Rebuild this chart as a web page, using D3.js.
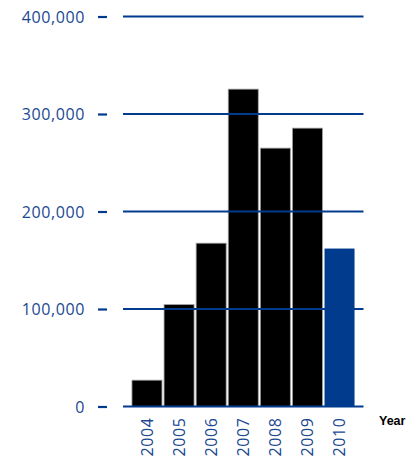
<!DOCTYPE html>
<html>
<head>
<meta charset="utf-8">
<script src="https://cdn.jsdelivr.net/npm/d3@7"></script>
<style>
  html, body { margin: 0; padding: 0; background: #fff; overflow: hidden; }
  svg { display: block; }
</style>
</head>
<body>
<svg id="chart" width="407" height="460"></svg>
<script>
// Yearly totals, 2004–2010 (last year highlighted)
const years = ["2004", "2005", "2006", "2007", "2008", "2009", "2010"];
const values = [27000, 104500, 167500, 325500, 265000, 285500, 162000];
const yTicks = [0, 100000, 200000, 300000, 400000];
const highlightYear = "2010";

const blue = "#003b8e";
const textBlue = "#1a4892";
const labelFont = "'Open Sans', 'DejaVu Sans', sans-serif";
const svg = d3.select("#chart");

const x = d3.scaleBand()
  .domain(years)
  .range([131, 355.5])
  .paddingInner(0.065)
  .paddingOuter(0.03);

const y = d3.scaleLinear()
  .domain([0, 400000])
  .range([406.5, 16.5]);

// Bars
svg.append("g")
  .selectAll("rect")
  .data(years)
  .join("rect")
  .attr("x", d => x(d))
  .attr("width", x.bandwidth())
  .attr("y", (d, i) => y(values[i]))
  .attr("height", (d, i) => y(0) - y(values[i]))
  .attr("fill", d => d === highlightYear ? blue : "#000")
  .attr("stroke", d => d === highlightYear ? "none" : "#a0a0a0")
  .attr("stroke-width", 0.8);

// Gridlines drawn over the bars
svg.append("g")
  .selectAll("line")
  .data(yTicks)
  .join("line")
  .attr("x1", 123)
  .attr("x2", 363.5)
  .attr("y1", d => y(d))
  .attr("y2", d => y(d))
  .attr("stroke", blue)
  .attr("stroke-width", 2.2);

// Left axis: short ticks and labels
const yAxis = d3.axisLeft(y)
  .tickValues(yTicks)
  .tickSize(9)
  .tickPadding(13)
  .tickFormat(d3.format(","));

const gy = svg.append("g")
  .attr("transform", "translate(107,0)")
  .call(yAxis);
gy.select(".domain").remove();
gy.selectAll(".tick line").attr("stroke", blue).attr("stroke-width", 2.2);
gy.selectAll(".tick text")
  .attr("fill", textBlue)
  .attr("font-family", labelFont)
  .attr("font-size", 16)
  .attr("letter-spacing", 0.6)
  .attr("dy", "0.36em");

// Year labels, rotated
const xAxis = d3.axisBottom(x).tickSize(0).tickPadding(0);
const gx = svg.append("g")
  .attr("transform", "translate(0,406.5)")
  .call(xAxis);
gx.select(".domain").remove();
gx.selectAll(".tick text")
  .attr("fill", textBlue)
  .attr("font-family", labelFont)
  .attr("font-size", 16)
  .attr("letter-spacing", 0.6)
  .attr("transform", "rotate(-90)")
  .attr("text-anchor", "end")
  .attr("x", -11)
  .attr("y", 0)
  .attr("dy", "0.36em");

// Axis title
svg.append("text")
  .attr("x", 379)
  .attr("y", 424.5)
  .attr("font-family", "'Liberation Sans', Arial, sans-serif")
  .attr("font-size", 12.5)
  .attr("font-weight", "bold")
  .attr("fill", "#000")
  .text("Year");
</script>
</body>
</html>
